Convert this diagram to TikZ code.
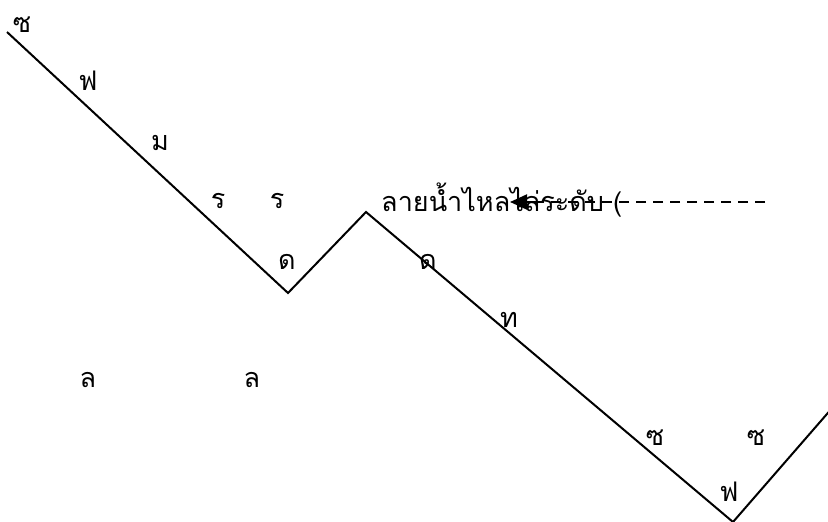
\documentclass[tikz,border=0pt]{standalone}
\usepackage{fontspec}
\newfontfamily\thaifont[Script=Thai]{Loma}
\usetikzlibrary{arrows.meta}
\begin{document}
\begin{tikzpicture}[x=1pt,y=-1pt,
  lbl/.style={font=\thaifont\fontsize{27}{32}\selectfont, inner sep=0pt, anchor=center},
  ridge/.style={line width=2pt, line join=miter},
  flowline/.style={line width=2pt, dash pattern=on 10pt off 7pt},
  flowtip/.style={line width=2pt, solid, -{Triangle[length=17pt,width=15pt]}}]
\useasboundingbox (0,0) rectangle (828,522);
\begin{scope}
\clip (0,0) rectangle (828,522);
\coordinate (p0) at (7,32);
\coordinate (p1) at (288,293);
\coordinate (p2) at (366,212);
\coordinate (p3) at (733,522);
\coordinate (p4) at (840,399);
\draw[ridge] (p0) -- (p1) -- (p2) -- (p3) -- (p4);
\end{scope}
\node[lbl] (s1) at (22,25) {ซ};
\node[lbl] (f1) at (88,81) {ฟ};
\node[lbl] (m1) at (160,143) {ม};
\node[lbl] (r1) at (218,201) {ร};
\node[lbl] (r2) at (277,201) {ร};
\node[lbl] (d1) at (287,262) {ด};
\node[lbl] (d2) at (428,262) {ด};
\node[lbl] (t1) at (509,320) {ท};
\node[lbl] (l1) at (88,380) {ล};
\node[lbl] (l2) at (252,380) {ล};
\node[lbl] (s2) at (655,438) {ซ};
\node[lbl] (s3) at (756,438) {ซ};
\node[lbl] (f2) at (729,492) {ฟ};
\node[lbl, anchor=west] (title) at (381,200) {ลายน้ำไหลไล่ระดับ (};
\coordinate (aE) at (765,202);
\coordinate (aM) at (535,202);
\coordinate (aS) at (510,202);
\draw[flowline] (aE) -- (aS);
\draw[flowtip] (aM) -- (aS);
\end{tikzpicture}
\end{document}
